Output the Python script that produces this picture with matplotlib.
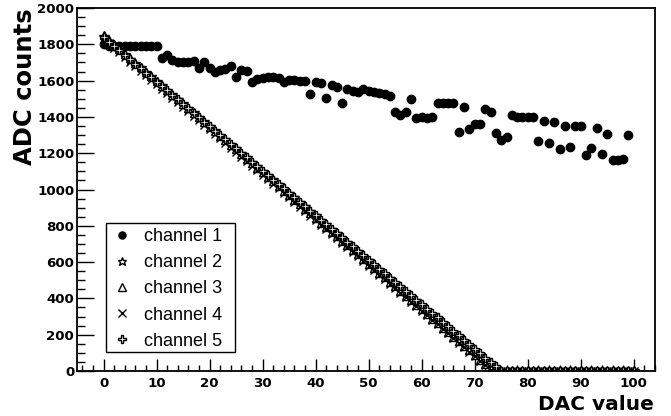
import matplotlib
matplotlib.use("Agg")
import matplotlib.pyplot as plt
from matplotlib.ticker import MultipleLocator
from matplotlib.patches import Rectangle

dac = list(range(0, 101))

ch1_x = list(range(0, 100))
ch1 = [1800, 1790, 1790, 1790, 1790, 1790, 1790, 1790, 1790, 1790,
       1790, 1725, 1740, 1715, 1705, 1705, 1705, 1710, 1670, 1700,
       1670, 1650, 1660, 1665, 1680, 1620, 1660, 1655, 1595, 1610,
       1615, 1620, 1620, 1615, 1590, 1605, 1605, 1600, 1600, 1526,
       1594, 1588, 1504, 1576, 1566, 1478, 1553, 1545, 1539, 1553,
       1540, 1535, 1530, 1525, 1515, 1429, 1410, 1429, 1499, 1394,
       1399, 1395, 1399, 1475, 1477, 1477, 1477, 1317, 1456, 1333,
       1361, 1361, 1444, 1427, 1311, 1273, 1291, 1410, 1401, 1401,
       1401, 1401, 1267, 1379, 1258, 1372, 1223, 1350, 1234, 1352,
       1352, 1190, 1229, 1339, 1196, 1306, 1163, 1160, 1170, 1300]

ch2 = [1840, 1815, 1791, 1766, 1741, 1716, 1692, 1667, 1642, 1618,
       1593, 1568, 1544, 1519, 1494, 1470, 1445, 1420, 1395, 1371,
       1346, 1321, 1297, 1272, 1247, 1222, 1198, 1173, 1148, 1124,
       1099, 1074, 1050, 1025, 1000, 976, 951, 926, 901, 877,
       852, 827, 803, 778, 753, 728, 704, 679, 654, 630,
       605, 580, 556, 531, 506, 482, 457, 432, 407, 383,
       358, 333, 309, 284, 259, 234, 210, 185, 160, 136,
       111, 86, 62, 37, 12] + [0] * 26

ch3 = [1850, 1825, 1800, 1774, 1749, 1724, 1699, 1674, 1649, 1623,
       1598, 1573, 1548, 1523, 1498, 1472, 1447, 1422, 1397, 1372,
       1347, 1321, 1296, 1271, 1246, 1221, 1196, 1170, 1145, 1120,
       1095, 1070, 1045, 1019, 994, 969, 944, 919, 894, 868,
       843, 818, 793, 768, 743, 717, 692, 667, 642, 617,
       592, 566, 541, 516, 491, 466, 440, 415, 390, 365,
       340, 315, 289, 264, 239, 214, 189, 164, 138, 113,
       88, 63, 38, 13] + [0] * 27

ch4 = [1830, 1805, 1780, 1755, 1730, 1705, 1680, 1655, 1630, 1605,
       1580, 1555, 1530, 1505, 1480, 1455, 1430, 1406, 1381, 1356,
       1331, 1306, 1281, 1256, 1231, 1206, 1181, 1156, 1131, 1106,
       1081, 1056, 1031, 1006, 981, 956, 931, 906, 881, 856,
       831, 806, 781, 756, 731, 706, 681, 656, 631, 606,
       581, 556, 531, 507, 482, 457, 432, 407, 382, 357,
       332, 307, 282, 257, 232, 207, 182, 157, 132, 107,
       82, 57, 32, 7] + [0] * 27

ch5 = [1840, 1815, 1791, 1766, 1742, 1717, 1693, 1668, 1644, 1619,
       1595, 1570, 1546, 1521, 1497, 1472, 1448, 1423, 1398, 1374,
       1349, 1325, 1300, 1276, 1251, 1227, 1202, 1178, 1153, 1129,
       1104, 1080, 1055, 1031, 1006, 981, 957, 932, 908, 883,
       859, 834, 810, 785, 761, 736, 712, 687, 663, 638,
       614, 589, 564, 540, 515, 491, 466, 442, 417, 393,
       368, 344, 319, 295, 270, 246, 221, 196, 172, 147,
       123, 98, 74, 49, 25] + [0] * 26

labels = ["channel 1", "channel 2", "channel 3", "channel 4", "channel 5"]

plt.rcParams['font.family'] = ['DejaVu Sans']

fig = plt.figure(figsize=(6.71, 4.16), dpi=100)
ax = fig.add_axes([77 / 671, 1 - 371 / 416, (655 - 77) / 671, (371 - 8) / 416])

ms = 6.3
h1, = ax.plot(ch1_x, ch1, 'o', color='black', markersize=6, linestyle='none')
h2, = ax.plot(dac, ch2, '*', mfc='white', mec='black', mew=1.0, markersize=7.5, linestyle='none')
h3, = ax.plot(dac, ch3, '^', mfc='white', mec='black', mew=1.0, markersize=ms, linestyle='none')
h4, = ax.plot(dac, ch4, 'x', color='black', mew=1.0, markersize=ms, linestyle='none')
h5, = ax.plot(dac, ch5, 'P', mfc='white', mec='black', mew=1.0, markersize=ms, linestyle='none')

ax.set_xlim(-5, 104)
ax.set_ylim(0, 2000)
ax.xaxis.set_major_locator(MultipleLocator(10))
ax.xaxis.set_minor_locator(MultipleLocator(2))
ax.yaxis.set_major_locator(MultipleLocator(200))
ax.yaxis.set_minor_locator(MultipleLocator(50))
ax.tick_params(axis='x', which='major', direction='in', length=8.4, width=1, pad=4)
ax.tick_params(axis='x', which='minor', direction='in', length=4.3, width=1)
ax.tick_params(axis='y', which='major', direction='in', length=12, width=1, pad=2)
ax.tick_params(axis='y', which='minor', direction='in', length=6, width=1)
for lab in ax.get_xticklabels() + ax.get_yticklabels():
    lab.set_fontweight('bold')
    lab.set_fontsize(9.6)
for sp in ax.spines.values():
    sp.set_linewidth(1.3)

fig.text(654 / 671, 1 - 410 / 416, "DAC value", fontsize=14.5, fontweight='bold',
         ha='right', va='baseline')
fig.text(37 / 671, 1 - 8 / 416, "ADC counts", fontsize=17.5, fontweight='bold',
         ha='right', va='top', rotation=90)

# legend box (drawn inside the axes, below the legend entries)
box = Rectangle((106 / 671, 1 - 352 / 416), 129 / 671, 129 / 416,
                transform=fig.transFigure, facecolor='white',
                edgecolor='black', linewidth=1.0, zorder=5, clip_on=False)
ax.add_patch(box)
leg = ax.legend([h1, h2, h3, h4, h5], labels, loc='upper left',
                bbox_to_anchor=(106 / 671, 1 - 223 / 416), bbox_transform=fig.transFigure,
                frameon=False, prop={'family': 'Liberation Sans', 'size': 13},
                borderaxespad=0, handlelength=1.2, handletextpad=0.6,
                labelspacing=0.5, borderpad=0.3, markerscale=0.85)
leg.set_zorder(6)

fig.savefig("out.png", dpi=100)
